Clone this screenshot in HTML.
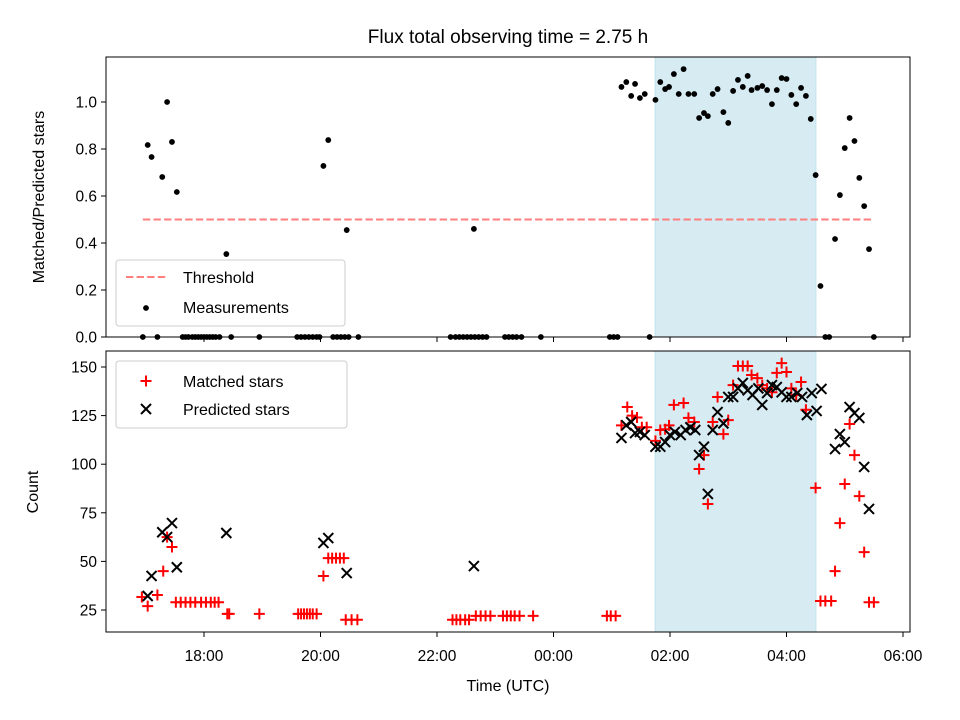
<!DOCTYPE html>
<html><head><meta charset="utf-8"><style>
body{margin:0;background:#fff;}
svg{display:block;font-family:"Liberation Sans","DejaVu Sans",sans-serif;}
</style></head><body>
<svg id="chart" width="960" height="720" viewBox="0 0 960 720">
<rect width="960" height="720" fill="#fff"/>
<text x="508" y="43" font-size="19" text-anchor="middle">Flux total observing time = 2.75 h</text>
<g id="topPanel"></g>
<g id="botPanel"></g>
<text x="44" y="197" font-size="16" text-anchor="middle" transform="rotate(-90 44 197)">Matched/Predicted stars</text>
<text x="38" y="492" font-size="16" text-anchor="middle" transform="rotate(-90 38 492)">Count</text>
<text x="508" y="691" font-size="16" text-anchor="middle">Time (UTC)</text>
</svg>
<script>
// minutes since 16:00 UTC
const xTickMinutes=[120,240,360,480,600,720,840];
const xTickLabels=["18:00","20:00","22:00","00:00","02:00","04:00","06:00"];
const topTicks=[0,0.2,0.4,0.6,0.8,1.0];
const botTicks=[25,50,75,100,125,150];
const threshold=0.5;
const thresholdRange=[57,810];
const windowRange=[584.6,750.4];
const ratioTime=[62,66,77,82,87,92,143,243,248,267,398,
57,72,98,101,104,108,111,114,117,120,123,126,129,132,136,148,177,216,220,224,228,232,236,239,253,257,261,265,269,279,374,379,383,387,391,395,399,403,407,411,430,434,438,442,447,467,538,542,546,579,760,764,810,
550,555,560,564,569,574,585,590,595,599,604,609,614,619,625,630,635,639,644,649,655,660,665,670,675,680,684,690,695,700,705,710,715,720,725,730,735,740,745,750,755,770,775,780,785,790,795,800,805];
const ratioVal=[0.817,0.766,0.681,1.0,0.83,0.617,0.353,0.728,0.838,0.455,0.46,
0,0,0,0,0,0,0,0,0,0,0,0,0,0,0,0,0,0,0,0,0,0,0,0,0,0,0,0,0,0,0,0,0,0,0,0,0,0,0,0,0,0,0,0,0,0,0,0,0,0,0,0,0,
1.064,1.085,1.026,1.077,1.017,1.034,1.009,1.085,1.055,1.064,1.119,1.034,1.14,1.034,1.034,0.932,0.953,0.94,1.034,1.055,0.957,0.911,1.047,1.094,1.064,1.111,1.051,1.06,1.068,1.051,0.991,1.051,1.102,1.098,1.03,0.991,1.06,1.026,0.928,0.689,0.217,0.417,0.604,0.804,0.932,0.834,0.677,0.557,0.374];
const matchedTime=[56,62,72,78,82,87,91,96,101,106,111,117,122,127,131,135,144,146,177,217,220,223,226,229,232,236,243,248,252,256,260,264,266,272,278,376,380,384,389,393,400,405,410,415,428,432,436,440,445,459,535,539,544,
550,556,561,566,571,576,585,590,595,599,604,614,619,625,630,635,639,644,649,655,660,665,670,675,680,684,690,695,700,705,710,715,720,725,730,735,740,750,755,760,766,770,775,780,785,790,795,800,805,810];
const matchedVal=[31.7,27,32.7,45,62.5,57.4,29,29,29,29,29,29,29,29,29,29,23,23,23,23,23,23,23,23,23,23,42.5,51.7,51.7,51.7,51.7,51.7,20,20,20,20,20,20,20,20,22,22,22,22,22,22,22,22,22,22,22,22,22,
120,129.4,125,124,119,119,112,117.6,118,120,130.5,131.5,123.8,121.7,97.5,104.7,79.5,121.7,134.6,115.5,122.7,140.7,150.5,150.5,150.5,145.9,144.3,140.7,139,137,147,152,147.4,139,135.6,142.3,128,87.8,29.6,29.6,29.6,45,69.7,89.8,120.7,104.7,83.6,54.8,29,29];
const predTime=[62,66,77,82,87,92,143,243,248,267,398,
550,555,560,564,569,574,585,590,595,600,605,611,616,621,626,630,635,639,644,649,655,660,665,670,675,680,685,691,695,700,705,710,715,720,725,731,736,741,746,751,756,770,775,780,785,790,795,800,805];
const predVal=[32.2,42.5,65,62.5,69.7,47,64.6,59.5,62,44,47.6,
113.5,120,121.7,116,116.6,115,109,109,111.4,115,116.6,115,117.6,119,117.6,104.7,109,84.7,117.6,126.8,121,134.6,134.6,139,141.8,138,135.6,139,130.5,136.6,140.7,139.7,137,134.6,134.6,136.6,134.6,125.3,136.6,127.4,138.7,107.8,115.5,111.4,129.4,126.3,123.8,98.6,77];

const NS="http://www.w3.org/2000/svg";
const L=106,R=910;
const xs=m=>87.5+m*58.25/60;
const yTop=v=>337-v*235;
const yBot=v=>610-(v-25)*1.944;
function mk(tag,attrs,parent){const e=document.createElementNS(NS,tag);for(const k in attrs)e.setAttribute(k,attrs[k]);parent.appendChild(e);return e;}
const topG=document.getElementById('topPanel'),botG=document.getElementById('botPanel');

function panel(g,y0,y1,ticks,yf,fmt,showX,pname){
  const sh=mk('rect',{x:xs(windowRange[0]),y:y0,width:xs(windowRange[1])-xs(windowRange[0]),height:y1-y0,fill:'#add8e6','fill-opacity':0.5,stroke:'#add8e6','stroke-opacity':0.6},g);
  
  
  ticks.forEach((t)=>{const y=yf(t);
    mk('line',{x1:L-5,x2:L,y1:y,y2:y,stroke:'#000','stroke-width':1},g);
    const tx=mk('text',{x:L-9,y:y+5.5,'font-size':15.5,'text-anchor':'end'},g);tx.textContent=fmt(t);
    
    
  });
  xTickMinutes.forEach((m,i)=>{const x=xs(m);
    mk('line',{x1:x,x2:x,y1:y1,y2:y1+5,stroke:'#000','stroke-width':1},g);
    if(showX){const tx=mk('text',{x:x,y:y1+29,'font-size':15.5,'text-anchor':'middle'},g);tx.textContent=xTickLabels[i];
      
      }
  });
}
panel(topG,57,337,topTicks,yTop,v=>v.toFixed(1),false,'top');
panel(botG,351,632,botTicks,yBot,v=>String(v),true,'bottom');

const th=mk('line',{x1:xs(thresholdRange[0]),x2:xs(thresholdRange[1]),y1:yTop(threshold),y2:yTop(threshold),stroke:'#ff7f7f','stroke-width':2,'stroke-dasharray':'7.4,3.2'},topG);


ratioTime.forEach((t,i)=>{
  const c=mk('circle',{cx:xs(t),cy:yTop(ratioVal[i]),r:2.9,fill:'#000'},topG);
  
  
});
matchedTime.forEach((t,i)=>{const x=xs(t),y=yBot(matchedVal[i]);
  const p=mk('path',{d:`M${x-5.5},${y}H${x+5.5}M${x},${y-5.5}V${y+5.5}`,stroke:'#f00','stroke-width':2,fill:'none'},botG);
  
  
});
predTime.forEach((t,i)=>{const x=xs(t),y=yBot(predVal[i]);
  const p=mk('path',{d:`M${x-5},${y-5}L${x+5},${y+5}M${x-5},${y+5}L${x+5},${y-5}`,stroke:'#000','stroke-width':2,fill:'none'},botG);
  
  
});
[[topG,57,337],[botG,351,632]].forEach(([g,a,b])=>{
  const f=mk('rect',{x:L,y:a,width:R-L,height:b-a,fill:'none',stroke:'#000','stroke-width':1},g);
  
  
});
function legend(g,x,y,w,h,name){const r=mk('rect',{x:x,y:y,width:w,height:h,rx:3,fill:'#fff','fill-opacity':0.8,stroke:'#ccc'},g);
  
  }
legend(topG,116,260,229,66,'top-legend');
mk('line',{x1:126,x2:166,y1:277,y2:277,stroke:'#ff7f7f','stroke-width':2,'stroke-dasharray':'7.4,3.2'},topG);
let t1=mk('text',{x:183,y:283,'font-size':16},topG);t1.textContent='Threshold';


mk('circle',{cx:146,cy:308,r:2.9,fill:'#000'},topG);
let t2=mk('text',{x:183,y:313,'font-size':16},topG);t2.textContent='Measurements';


legend(botG,116,361,231,67,'bottom-legend');
mk('path',{d:'M140.5,381H151.5M146,375.5V386.5',stroke:'#f00','stroke-width':2},botG);
let t3=mk('text',{x:183,y:387,'font-size':16},botG);t3.textContent='Matched stars';


mk('path',{d:'M141,404L151,414M141,414L151,404',stroke:'#000','stroke-width':2},botG);
let t4=mk('text',{x:183,y:415,'font-size':16},botG);t4.textContent='Predicted stars';


</script>
</body></html>
